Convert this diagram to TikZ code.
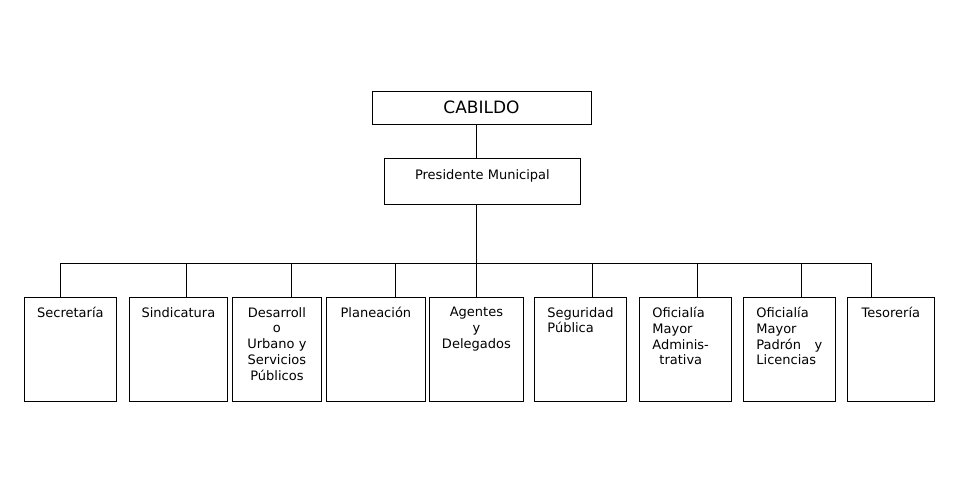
\documentclass[tikz,border=0pt]{standalone}
\usepackage{fontspec}
\setmainfont{DejaVu Sans}
\usetikzlibrary{positioning}

\begin{document}
\begin{tikzpicture}[x=1pt,y=-1pt,line width=0.8pt,
    unit/.style={draw,anchor=north west,inner sep=0,minimum height=104},
    txt/.style={inner sep=0,font=\fontsize{13}{15.7}\selectfont,align=center},
    ltxt/.style={txt,align=left,anchor=north west}]
  \useasboundingbox (0,0) rectangle (959,479);
  % top of the chart
  \node[draw,inner sep=0,minimum width=219,minimum height=33,
    font=\fontsize{17}{20}\selectfont] (cab) at (481.5,107.5) {CABILDO};
  \node[draw,anchor=north west,minimum width=196,minimum height=46] (pres) at (384,158) {};
  \node[txt,below=11pt of pres.north] (pres-t) {Presidente Municipal};
  % departments
  \foreach \n/\x/\w in {secr/24/92,sind/129/98,desa/232/89,plan/326/99,agen/429/94,
      segu/534/92,ofad/639/92,ofpa/743/92,teso/847/87}
    \node[unit,minimum width=\w] (\n) at (\x,297) {};
  \node[txt,below=10pt of secr.north] (secr-t) {Secretaría};
  \node[txt,below=10pt of sind.north] (sind-t) {Sindicatura};
  \node[txt,below=10pt of desa.north] (desa-t) {Desarroll\\o\\Urbano y\\Servicios\\Públicos};
  \node[txt,below=10pt of plan.north] (plan-t) {Planeación};
  \node[txt,below=10pt of agen.north] (agen-t) {Agentes\\y\\Delegados};
  \node[ltxt,below right=10pt and 13pt of segu.north west] (segu-t) {Seguridad\\Pública};
  \node[ltxt,below right=10pt and 13pt of ofad.north west] (ofad-t)
    {Oficialía\\Mayor\\Adminis-\\\hspace*{7pt}trativa};
  \node[ltxt,below right=10pt and 13pt of ofpa.north west] (ofpa-t)
    {Oficialía\\Mayor\\\makebox[66pt][l]{Padrón\hfill y}\\Licencias};
  \node[txt,below=10pt of teso.north] (teso-t) {Tesorería};
  % connectors
  \foreach \i/\x in {1/60,2/186,3/291,4/395,5/476,6/592,7/697,8/801,9/871}
    \coordinate (d\i) at (\x,263);
  \draw (cab.south -| d5) -- (pres.north -| d5);
  \draw (pres.south -| d5) -- (d5);
  \draw (d1) -- (d9);
  \foreach \i/\n in {1/secr,2/sind,3/desa,4/plan,5/agen,6/segu,7/ofad,8/ofpa,9/teso}
    \draw (d\i) -- (d\i |- \n.north);
\end{tikzpicture}
\end{document}
